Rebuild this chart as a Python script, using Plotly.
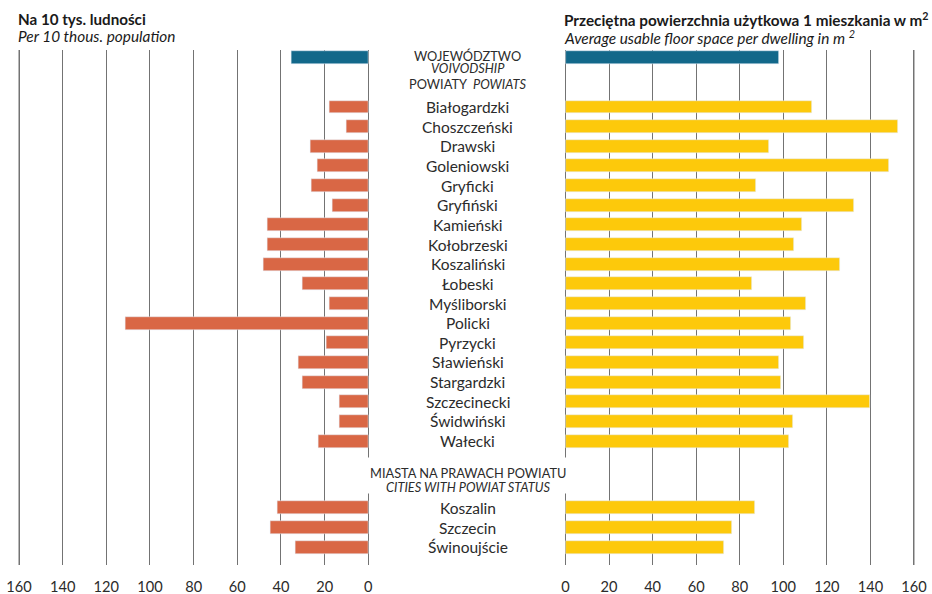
import plotly.graph_objects as go

# ---------------- data ----------------
voiv_label = "WOJEWÓDZTWO"
voiv_per10k = 35.4
voiv_floor = 98.0

powiats = ["Białogardzki", "Choszczeński", "Drawski", "Goleniowski", "Gryficki",
           "Gryfiński", "Kamieński", "Kołobrzeski", "Koszaliński", "Łobeski",
           "Myśliborski", "Policki", "Pyrzycki", "Sławieński", "Stargardzki",
           "Szczecinecki", "Świdwiński", "Wałecki"]
powiat_per10k = [18.0, 10.2, 26.7, 23.5, 26.2, 16.6, 46.4, 46.4, 48.2, 30.4,
                 18.0, 111.4, 19.4, 32.2, 30.4, 13.4, 13.4, 23.0]
powiat_floor = [113.2, 152.7, 93.4, 148.5, 87.5, 132.5, 108.6, 104.9, 126.0, 85.6,
                110.4, 103.5, 109.5, 98.0, 98.9, 139.8, 104.5, 102.6]

cities = ["Koszalin", "Szczecin", "Świnoujście"]
city_per10k = [41.8, 45.0, 33.6]
city_floor = [87.0, 76.4, 72.9]

tick_vals = [0, 20, 40, 60, 80, 100, 120, 140, 160]

# ---------------- layout helpers ----------------
W, H = 932, 594
ROW = 19.65
TOP, BOT = 50, 29
plot_h = H - TOP - BOT
y0_px = 107  # pixel centre of first powiat row
y_top = (TOP - y0_px) / ROW
y_bot = y_top + plot_h / ROW


def row(p):  # pixel -> row units
    return (p - y0_px) / ROW


def px_x(p):  # pixel -> paper x
    return p / W


def px_y(p):  # pixel -> paper y
    return (H - BOT - p) / plot_h


voiv_y = -2.5
powiat_y = list(range(len(powiats)))
city_y = [len(powiats) + 2.4 + i for i in range(len(cities))]

BLUE = "#12688a"
ORANGE = "#d96745"
YELLOW = "#fdc90b"
GRID = "#737373"
FONT = "Lato"
TXT = "#2b2b2b"

bw = 0.66
EPS = 1.2  # small range padding so the edge grid lines are drawn
L_PPU = (368.3 - 19) / 160
R_PPU = (914 - 565.5) / 160

fig = go.Figure()
fig.add_trace(go.Bar(x=[voiv_per10k], y=[voiv_y], orientation="h", marker_color=BLUE,
                     width=bw, xaxis="x", yaxis="y", showlegend=False))
fig.add_trace(go.Bar(x=powiat_per10k + city_per10k, y=powiat_y + city_y, orientation="h",
                     marker_color=ORANGE, width=bw, xaxis="x", yaxis="y", showlegend=False))
fig.add_trace(go.Bar(x=[voiv_floor], y=[voiv_y], orientation="h", marker_color=BLUE,
                     width=bw, xaxis="x2", yaxis="y", showlegend=False))
fig.add_trace(go.Bar(x=powiat_floor + city_floor, y=powiat_y + city_y, orientation="h",
                     marker_color=YELLOW, width=bw, xaxis="x2", yaxis="y", showlegend=False))

axis_common = dict(tickvals=tick_vals, showgrid=True, gridcolor=GRID, gridwidth=1,
                   zeroline=False, showline=False, ticks="outside", ticklen=8,
                   tickcolor="rgba(0,0,0,0)", automargin=False, ticklabeloverflow="allow",
                   tickfont=dict(family=FONT, size=14.6, color=TXT), fixedrange=True)

fig.update_layout(
    width=W, height=H,
    margin=dict(l=0, r=0, t=TOP, b=BOT, autoexpand=False),
    paper_bgcolor="white", plot_bgcolor="white",
    bargap=0,
    xaxis=dict(domain=[px_x(19 - EPS * L_PPU), px_x(368.3 + EPS * L_PPU)],
               range=[160 + EPS, -EPS], **axis_common),
    xaxis2=dict(domain=[px_x(565.5 - EPS * R_PPU), px_x(914 + EPS * R_PPU)],
                range=[-EPS, 160 + EPS], anchor="y", **axis_common),
    yaxis=dict(range=[y_bot, y_top], showgrid=False, zeroline=False, showticklabels=False,
               showline=False, fixedrange=True, automargin=False),
    font=dict(family=FONT, color=TXT),
)

# outermost grid lines (at 160 on both scales)
for xr in ("x", "x2"):
    fig.add_shape(type="line", xref=xr, yref="paper", x0=tick_vals[-1], x1=tick_vals[-1],
                  y0=0, y1=1, line=dict(color=GRID, width=1), layer="below")

cx = px_x(467.5)
HDR = 12.8
ann = []
ann.append(dict(text=voiv_label, x=cx, y=row(55.5), xref="paper", yref="y", showarrow=False,
                font=dict(size=HDR, family=FONT, color=TXT)))
ann.append(dict(text="<i>VOIVODSHIP</i>", x=cx, y=row(68), xref="paper", yref="y", showarrow=False,
                font=dict(size=HDR, family=FONT, color=TXT)))
ann.append(dict(text="POWIATY  <i>POWIATS</i>", x=cx, y=row(84), xref="paper", yref="y",
                showarrow=False, font=dict(size=HDR, family=FONT, color=TXT)))
for name, yy in zip(powiats + cities, powiat_y + city_y):
    ann.append(dict(text=name, x=cx, y=yy, xref="paper", yref="y", showarrow=False,
                    font=dict(size=15.5, family=FONT, color=TXT)))
# white box hiding the zero lines behind the city header
ann.append(dict(text=" ", x=cx, y=row(475.5), xref="paper", yref="y", showarrow=False,
                width=206, height=35, bgcolor="white", borderpad=0))
ann.append(dict(text="MIASTA NA PRAWACH POWIATU", x=cx, y=row(472.5), xref="paper", yref="y",
                showarrow=False, font=dict(size=HDR, family=FONT, color=TXT)))
ann.append(dict(text="<i>CITIES WITH POWIAT STATUS</i>", x=cx, y=row(486.5), xref="paper", yref="y",
                showarrow=False, font=dict(size=HDR, family=FONT, color=TXT)))

TC = "#1a1a1a"
ann.append(dict(text="<b>Na 10 tys. ludności</b>", x=px_x(16), y=px_y(19), xref="paper",
                yref="paper", xanchor="left", yanchor="middle", showarrow=False,
                font=dict(size=15.2, family=FONT, color=TC)))
ann.append(dict(text="<i>Per 10 thous. population</i>", x=px_x(16), y=px_y(36), xref="paper",
                yref="paper", xanchor="left", yanchor="middle", showarrow=False,
                font=dict(size=15.4, family=FONT, color=TC)))
ann.append(dict(text="<b>Przeciętna powierzchnia użytkowa 1 mieszkania w m<sup>2</sup></b>",
                x=px_x(562), y=px_y(19), xref="paper", yref="paper",
                xanchor="left", yanchor="middle", showarrow=False,
                font=dict(size=15.3, family=FONT, color=TC)))
ann.append(dict(text="<i>Average usable floor space per dwelling in m <sup>2</sup></i>",
                x=px_x(562), y=px_y(37), xref="paper", yref="paper",
                xanchor="left", yanchor="middle", showarrow=False,
                font=dict(size=15.4, family=FONT, color=TC)))

fig.update_layout(annotations=ann)
fig.write_html("out.html", config={"displayModeBar": False},
               post_script="document.body.style.margin='0';document.body.style.overflow='hidden';")
